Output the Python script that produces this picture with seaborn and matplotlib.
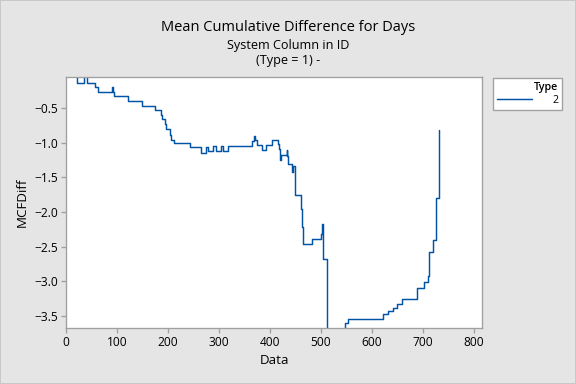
import pandas as pd
import matplotlib.pyplot as plt
import seaborn as sns

# step points (x = Data, y = MCFDiff)
days = [0, 22.4, 35.3, 41.2, 56.9, 62.7, 89.6, 91.5, 94.1, 122.4, 149.0, 175.3,
        185.7, 187.6, 194.1, 196.1, 203.9, 205.9, 212.5, 243.1, 264.7, 274.5,
        278.4, 288.2, 294.1, 303.9, 307.8, 317.6, 364.7, 368.6, 370.0, 374.5,
        384.3, 392.2, 403.9, 415.7, 417.6, 419.6, 421.0, 433.3, 434.3, 435.3,
        443.1, 444.5, 449.0, 460.8, 462.7, 464.7, 482.4, 500.0, 501.5, 503.9,
        512.5, 548.0, 553.0, 622.0, 632.0, 641.0, 649.0, 659.0, 688.0, 702.0,
        709.8, 711.8, 719.6, 725.5, 731.0]
mcf_diff = [0.0, -0.14, 0.0, -0.14, -0.19, -0.27, -0.19, -0.27, -0.32, -0.40, -0.47, -0.53,
            -0.60, -0.66, -0.73, -0.80, -0.88, -0.96, -1.00, -1.06, -1.14, -1.06,
            -1.12, -1.05, -1.12, -1.05, -1.12, -1.05, -0.98, -0.90, -0.96, -1.03,
            -1.11, -1.03, -0.96, -1.02, -1.09, -1.25, -1.18, -1.11, -1.19, -1.30,
            -1.42, -1.33, -1.76, -1.96, -2.21, -2.46, -2.39, -2.32, -2.17, -2.68,
            -3.80, -3.60, -3.54, -3.48, -3.43, -3.38, -3.33, -3.26, -3.10, -3.01,
            -2.92, -2.58, -2.40, -1.79, -0.81]
type_label = ["2"] * len(days)

df = pd.DataFrame({"Data": days, "MCFDiff": mcf_diff, "Type": type_label})

sns.set_style("white")
plt.rcParams["font.family"] = ["Open Sans", "DejaVu Sans"]
plt.rcParams["text.color"] = "black"
plt.rcParams["axes.labelcolor"] = "black"
plt.rcParams["xtick.color"] = "black"
plt.rcParams["ytick.color"] = "black"

bg = "#E5E5E5"
edge = "#A0A0A0"
fig = plt.figure(figsize=(6, 4), dpi=96, facecolor=bg)
ax = fig.add_axes([0.1146, 0.146, 0.7222, 0.6535])
ax.set_facecolor("white")

sns.lineplot(data=df, x="Data", y="MCFDiff", hue="Type", palette=["#0054A6"],
             estimator=None, sort=False, drawstyle="steps-post", linewidth=1.1, ax=ax)

ax.set_xlim(0, 816)
ax.set_ylim(-3.675, -0.048)
ax.set_xticks(range(0, 900, 100))
ax.set_yticks([-3.5, -3.0, -2.5, -2.0, -1.5, -1.0, -0.5])
ax.tick_params(axis="both", which="both", direction="out", length=4, width=1,
               color=edge, labelcolor="black", labelsize=9, pad=2, bottom=True, left=True)
ax.set_xlabel("Data", fontsize=10)
ax.set_ylabel("MCFDiff", fontsize=10)
for s in ax.spines.values():
    s.set_color(edge)
    s.set_linewidth(1)

fig.text(0.5, 0.928, "Mean Cumulative Difference for Days", ha="center", va="center", fontsize=11)
fig.text(0.5, 0.882, "System Column in ID", ha="center", va="center", fontsize=9.5)
fig.text(0.5, 0.843, "(Type = 1) -", ha="center", va="center", fontsize=9.5)

handles, labels = ax.get_legend_handles_labels()
leg = ax.legend(handles, labels, title="Type", loc="upper left", bbox_to_anchor=(1.027, 0.996),
                frameon=True, fancybox=False, fontsize=8, title_fontsize=8,
                handlelength=3.3, handletextpad=1.9, borderpad=0.35, labelspacing=0.2,
                borderaxespad=0, framealpha=1, facecolor="white")
leg.get_frame().set_edgecolor(edge)
leg.get_frame().set_linewidth(1)
leg.get_title().set_fontweight("semibold")
leg._legend_box.align = "right"

fig.patches.append(plt.Rectangle((0, 0), 1, 1, transform=fig.transFigure, fill=False,
                                 edgecolor="#C8C8C8", linewidth=1.5))

fig.savefig("out.png", dpi=96, facecolor=bg)
